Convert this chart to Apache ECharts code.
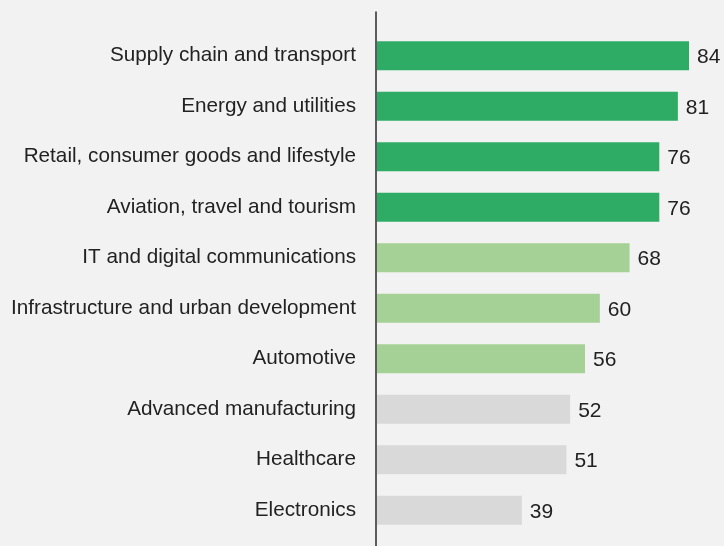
<!DOCTYPE html>
<html><head><meta charset="utf-8">
<script src="https://cdn.jsdelivr.net/npm/echarts@6/dist/echarts.min.js"></script>
<style>html,body{margin:0;padding:0;background:#f2f2f2;}#c{width:724px;height:546px;}</style>
</head><body><div id="c"></div>
<script>
const categories = ["Supply chain and transport","Energy and utilities","Retail, consumer goods and lifestyle","Aviation, travel and tourism","IT and digital communications","Infrastructure and urban development","Automotive","Advanced manufacturing","Healthcare","Electronics"];
const values = [84,81,76,76,68,60,56,52,51,39];
const groups = [0,0,0,0,1,1,1,2,2,2];
const palette = ["#2eac66","#a6d196","#d9d9d9"];

const chart = echarts.init(document.getElementById('c'));
const font = '"Liberation Sans", Arial, Helvetica, sans-serif';
chart.setOption({
  backgroundColor: '#f2f2f2',
  animation: false,
  grid: [
    {left: 377, right: 12.7, top: 30.5, bottom: 10.5},
    {left: 376, right: 12.7, top: 12, bottom: 0}
  ],
  xAxis: [
    {type: 'value', gridIndex: 0, min: 0, max: 90, show: false},
    {type: 'value', gridIndex: 1, min: 0, max: 90, show: false}
  ],
  yAxis: [
    {type: 'category', gridIndex: 0, data: categories, inverse: true,
     axisLine: {show: false}, axisTick: {show: false},
     axisLabel: {margin: 21, color: '#222', fontSize: 20.7, fontFamily: font, padding: [4, 0, 0, 0]}},
    {type: 'value', gridIndex: 1, min: 0, max: 1, z: 10,
     axisLine: {show: true, lineStyle: {color: '#2a2a2a', width: 1.5}},
     axisTick: {show: false}, axisLabel: {show: false}, splitLine: {show: false}}
  ],
  series: [{
    type: 'bar', xAxisIndex: 0, yAxisIndex: 0,
    data: values.map((v, i) => ({value: v, itemStyle: {color: palette[groups[i]]}})),
    barWidth: 29,
    label: {show: true, position: 'right', distance: 8, offset: [0, 1.5], color: '#222', fontSize: 21, fontFamily: font}
  }]
});
</script></body></html>
